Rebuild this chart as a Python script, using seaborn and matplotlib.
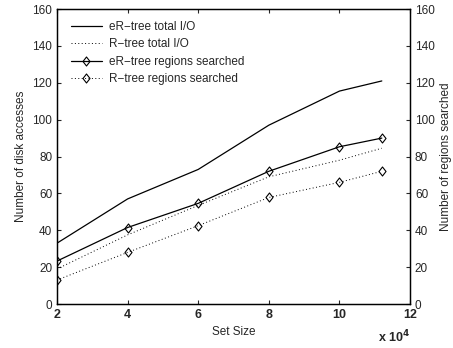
import matplotlib
matplotlib.use("Agg")
import matplotlib.pyplot as plt
import seaborn as sns
import pandas as pd
from matplotlib.lines import Line2D
from matplotlib.path import Path

# Set sizes in units of 10^4
set_size = [2, 4, 6, 8, 10, 11.2]
er_total_io = [33, 57, 73, 97, 115.5, 121]
r_total_io = [19, 37.5, 53.5, 69, 78, 84.5]
er_regions = [23.3, 41.5, 54.6, 72, 85.3, 90]
r_regions = [13, 28, 42.5, 57.8, 66, 72]

xticks = [2, 4, 6, 8, 10, 12]
yticks = [0, 20, 40, 60, 80, 100, 120, 140, 160]

sns.set_style("ticks")
plt.rcParams["font.family"] = ["Liberation Sans", "DejaVu Sans"]
plt.rcParams["xtick.direction"] = "in"
plt.rcParams["ytick.direction"] = "in"

io_df = pd.DataFrame({"size": set_size * 2,
                      "value": er_total_io + r_total_io,
                      "series": ["eR-tree total I/O"] * 6 + ["R-tree total I/O"] * 6})
reg_df = pd.DataFrame({"size": set_size * 2,
                       "value": er_regions + r_regions,
                       "series": ["eR-tree regions searched"] * 6 + ["R-tree regions searched"] * 6})

fig = plt.figure(figsize=(4.53, 3.48), dpi=100)
ax = fig.add_axes([0.1258, 0.1264, 0.7794, 0.8476])
ax2 = ax.twinx()

# MATLAB-style diamond, a bit wider than matplotlib's thin diamond
diamond = Path([(0, 1), (0.78, 0), (0, -1), (-0.78, 0), (0, 1)],
               [Path.MOVETO, Path.LINETO, Path.LINETO, Path.LINETO, Path.CLOSEPOLY])

dot_style = dict(color="black", linestyle=(0, (1, 2.5)), linewidth=0.7)
solid_style = dict(color="black", linestyle="-", linewidth=0.9)
mk = dict(marker=diamond, markersize=6.5, markerfacecolor="none", markeredgecolor="black",
          markeredgewidth=0.8)

sns.lineplot(data=io_df[io_df.series == "eR-tree total I/O"], x="size", y="value",
             ax=ax, legend=False, **solid_style)
sns.lineplot(data=io_df[io_df.series == "R-tree total I/O"], x="size", y="value",
             ax=ax, legend=False, **dot_style)
sns.lineplot(data=reg_df[reg_df.series == "eR-tree regions searched"], x="size", y="value",
             ax=ax2, legend=False, **solid_style, **mk)
sns.lineplot(data=reg_df[reg_df.series == "R-tree regions searched"], x="size", y="value",
             ax=ax2, legend=False, **dot_style, **mk)

for a in (ax, ax2):
    a.set_xlim(2, 12)
    a.set_ylim(0, 160)
    a.set_yticks(yticks)
    a.tick_params(labelsize=8.5, length=3, width=0.8, top=True)
    for s in a.spines.values():
        s.set_visible(True)
        s.set_linewidth(0.9)
        s.set_color("black")

ax.set_xticks(xticks)
ax.set_xticklabels([str(t) for t in xticks], fontweight="bold", fontsize=9)
ax.tick_params(axis="y", right=False)
ax2.tick_params(axis="y", left=False, right=True)
ax.set_xlabel("Set Size", fontsize=8.5, labelpad=4)
ax.set_ylabel("Number of disk accesses", fontsize=8.5, labelpad=4)
ax2.set_ylabel("Number of regions searched", fontsize=8.5, labelpad=4)

ax.text(1.0, -0.085, r"x 10$^{\mathbf{4}}$", transform=ax.transAxes, ha="right", va="top",
        fontsize=9, fontweight="bold")

handles = [
    Line2D([], [], **solid_style),
    Line2D([], [], **dot_style),
    Line2D([], [], **solid_style, **mk),
    Line2D([], [], **dot_style, **mk),
]
labels = ["eR\u2212tree total I/O", "R\u2212tree total I/O",
          "eR\u2212tree regions searched", "R\u2212tree regions searched"]
ax2.legend(handles, labels, loc="upper left", frameon=False, fontsize=8.5,
           handlelength=2.6, handletextpad=0.6, labelspacing=0.45,
           bbox_to_anchor=(0.01, 0.995))

fig.savefig("out.png", dpi=100)
